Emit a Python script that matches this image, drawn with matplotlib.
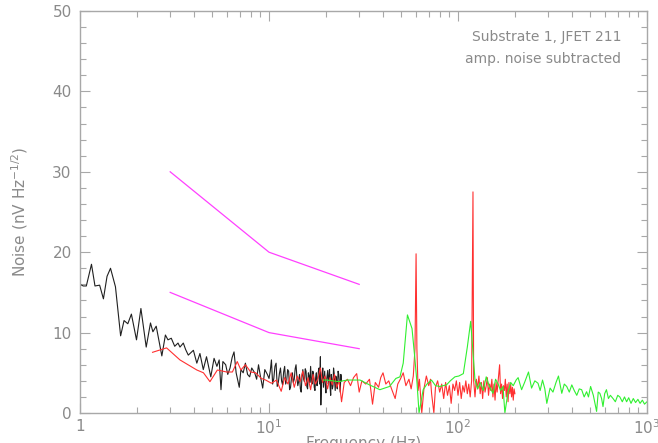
import matplotlib
matplotlib.use("Agg")
import matplotlib.pyplot as plt
from matplotlib.ticker import LogLocator, MultipleLocator, FixedLocator, NullFormatter

AXIS = "#a8a8a8"
TEXT = "#8a8a8a"

# black trace: frequency (Hz), noise (nV/rtHz)
black_f = [1.00, 1.04, 1.08, 1.15, 1.20, 1.27, 1.33, 1.39, 1.45, 1.54, 1.64, 1.71, 1.79,
           1.87, 1.99, 2.10, 2.24, 2.36, 2.43, 2.53, 2.71, 2.83, 2.92, 3.04, 3.17, 3.30,
           3.38, 3.52, 3.62, 3.74, 3.86, 3.98, 4.15, 4.31, 4.49, 4.67, 4.92, 5.12, 5.30,
           5.45, 5.57, 5.70, 5.90, 6.05, 6.22, 6.38, 6.53, 6.70, 6.96, 7.10, 7.30, 7.50,
           7.70, 7.90, 8.10, 8.40, 8.60, 8.80, 9.00, 9.26, 9.50, 9.80,
           10.0, 10.15, 10.3, 10.45, 10.6, 10.75, 10.9, 11.05, 11.2, 11.35,
           11.5, 11.65, 11.8, 11.95, 12.1, 12.25, 12.4, 12.55, 12.7, 12.85,
           13.0, 13.15, 13.3, 13.45, 13.6, 13.75, 13.9, 14.05, 14.2, 14.35,
           14.5, 14.65, 14.8, 14.95, 15.1, 15.25, 15.4, 15.55, 15.7, 15.85,
           16.0, 16.15, 16.3, 16.45, 16.6, 16.75, 16.9, 17.05, 17.2, 17.35,
           17.5, 17.65, 17.8, 17.95, 18.1, 18.25, 18.4, 18.55, 18.7, 18.8,
           18.95, 19.1, 19.25, 19.4, 19.55, 19.7, 19.85, 20.0, 20.15, 20.3,
           20.45, 20.6, 20.75, 20.9, 21.05, 21.2, 21.35, 21.5, 21.65, 21.8,
           21.95, 22.1, 22.25, 22.4, 22.55, 22.7, 22.85, 23.0, 23.2, 23.4,
           23.6, 23.8, 24.0, 24.2]
black_v = [16.0, 15.8, 15.8, 18.5, 15.8, 15.9, 14.2, 17.0, 18.0, 15.7, 9.6, 11.5, 11.1,
           12.3, 9.1, 13.0, 8.2, 11.2, 10.1, 10.8, 7.1, 9.7, 9.1, 9.3, 8.3, 8.7,
           8.2, 8.7, 7.9, 7.2, 7.5, 7.8, 6.2, 7.4, 5.4, 7.0, 4.5, 6.8, 5.8,
           6.6, 2.9, 6.4, 6.0, 4.8, 5.6, 6.9, 7.6, 5.0, 3.2, 5.4, 5.0, 6.2,
           4.8, 4.5, 5.6, 5.0, 4.2, 6.0, 4.6, 3.1, 5.4, 4.8,
           4.3, 5.2, 6.6, 3.6, 4.3, 5.8, 6.2, 3.3, 3.8, 4.9,
           5.6, 4.0, 3.5, 5.1, 5.8, 3.6, 4.0, 5.4, 5.2, 2.9,
           3.2, 4.4, 5.0, 3.8, 4.2, 5.5, 6.0, 4.4, 3.4, 3.9,
           4.8, 3.0, 2.6, 4.6, 5.4, 4.2, 3.9, 5.5, 5.2, 3.3,
           3.0, 5.0, 4.6, 3.8, 5.8, 4.1, 3.6, 5.2, 4.8, 3.2,
           2.8, 4.4, 5.0, 3.4, 4.0, 5.2, 5.6, 3.6, 7.0, 1.0,
           3.8, 4.4, 5.6, 3.2, 4.2, 5.2, 3.4, 2.5, 4.0, 4.6,
           5.3, 3.6, 4.4, 5.4, 3.2, 2.2, 4.8, 4.2, 3.0, 3.4,
           5.6, 5.0, 3.8, 2.8, 4.6, 4.4, 3.2, 3.0, 5.2, 4.8,
           3.6, 2.6, 4.8, 4.0]

red_f = [2.42, 2.87, 3.38, 4.15, 4.50, 4.87, 5.33, 5.97, 6.40, 6.79, 7.10, 7.50, 8.00,
         8.50, 9.10, 9.60, 10.3, 10.95, 11.6, 12.1, 12.6, 13.1, 13.6, 14.1, 14.6, 15.1,
         15.6, 16.1, 16.6, 17.1, 17.6, 18.1, 18.7, 19.2, 19.8, 20.4, 21.0, 21.6, 22.2,
         22.8, 23.5, 24.2, 25.0, 26.0, 27.0, 28.0, 29.1, 30.0, 31.0, 32.5, 34.0, 35.3,
         36.5, 38.0, 39.0, 40.1, 41.5, 43.0, 44.5, 46.5, 48.0, 49.5, 51.3, 53.0, 55.0,
         56.5, 58.0, 59.2, 60.0, 60.6, 61.5, 62.5, 64.3, 66.0, 68.0, 70.0, 71.5, 72.5,
         74.5, 76.0, 78.0, 80.0, 82.0, 84.0, 86.0, 88.0, 90.0, 92.0, 94.0, 96.0, 98.0,
         100.0, 102.0, 104.0, 106.0, 108.0, 110.0, 112.0, 114.0, 116.0, 118.0, 120.0,
         121.0, 123.0, 125.0, 127.0, 129.0, 131.0, 133.0, 135.0, 137.0, 139.0, 141.0,
         143.0, 145.0, 147.0, 149.0, 151.0, 153.0, 155.0, 157.0, 159.0, 161.0, 163.0,
         166.0, 168.0, 170.0, 172.0, 174.0, 176.0, 178.0, 180.0, 182.0, 184.0, 186.0,
         188.0, 190.0, 192.0, 194.0, 196.0, 198.0, 200.0]
red_v = [7.55, 8.1, 6.6, 5.35, 5.0, 3.9, 5.35, 5.1, 5.1, 6.4, 5.35, 6.0, 5.1,
         5.0, 4.3, 4.1, 3.7, 4.1, 2.7, 4.4, 3.6, 5.0, 3.2, 4.6, 3.9, 5.2,
         3.4, 4.4, 2.9, 4.8, 3.6, 4.2, 5.6, 3.8, 4.6, 3.0, 4.4, 3.5, 4.8,
         3.2, 4.0, 1.4, 3.8, 4.2, 3.4, 4.4, 4.9, 2.6, 4.0, 3.6, 4.2, 1.1,
         3.8, 3.2, 4.4, 5.0, 3.6, 4.0, 3.0, 1.8, 3.6, 4.2, 5.0, 3.4, 4.2,
         3.0, 4.6, 8.0, 19.8, 8.0, 2.8, 4.2, 0.0, 3.0, 4.6, 3.4, 4.2, 2.4,
         0.0, 3.2, 4.0, 2.6, 3.6, 1.8, 3.8, 2.2, 3.4, 1.2, 3.6, 2.8, 4.0,
         2.2, 3.8, 1.8, 3.4, 2.6, 4.0, 2.4, 3.6, 2.0, 4.0, 27.5,
         4.0, 2.0, 4.2, 3.0, 4.6, 2.4, 3.8, 1.8, 4.0, 2.6, 3.4,
         4.4, 2.2, 3.6, 2.8, 4.2, 2.0, 3.6, 1.6, 3.8, 2.6, 4.0,
         6.0, 2.4, 3.6, 1.8, 3.4, 2.8, 4.2, 2.0, 3.6, 1.4, 3.8,
         2.4, 3.6, 2.0, 3.2, 1.6, 3.0, 2.4]

green_f = [19.4, 20.2, 23.3, 26.0, 30.3, 34.0, 38.6, 43.4, 46.9, 49.3, 51.3, 54.0, 57.1,
           59.0, 60.7, 62.2, 65.4, 68.5, 72.4, 76.0, 80.0, 86.9, 91.0, 96.3, 101.0, 106.7,
           112.0, 116.7, 119.6, 123.0, 127.0, 131.0, 136.0, 141.0, 146.0, 153.0, 158.0,
           163.0, 168.0, 173.0, 177.0, 184.0, 190.0, 196.0, 203.0, 208.0, 217.0, 225.0,
           236.0, 245.0, 255.0, 265.0, 272.0, 280.0, 288.0, 295.0, 307.0, 318.0, 330.0,
           340.0, 354.0, 365.0, 376.0, 388.0, 400.0, 412.0, 425.0, 438.0, 451.0, 465.0,
           479.0, 490.0, 503.0, 520.0, 541.0, 552.0, 563.0, 575.0, 585.0, 597.0, 610.0,
           625.0, 640.0, 661.0, 680.0, 700.0, 718.0, 740.0, 760.0, 780.0, 800.0, 823.0,
           846.0, 870.0, 895.0, 919.0, 945.0, 970.0, 1000.0]
green_v = [4.1, 4.1, 3.9, 4.1, 4.1, 3.5, 2.9, 3.3, 4.3, 4.5, 6.2, 12.2, 10.5,
           7.0, 3.7, 0.0, 2.9, 3.6, 4.1, 3.4, 3.3, 3.5, 4.0, 4.5, 4.6, 4.9,
           8.2, 11.4, 8.0, 4.1, 3.0, 3.8, 2.8, 4.5, 3.4, 2.45, 4.2,
           3.6, 2.8, 3.3, 0.0, 2.65, 3.8, 3.4, 4.1, 4.4, 2.9, 3.8,
           5.1, 3.1, 4.0, 3.7, 2.8, 4.1, 3.0, 1.2, 3.1, 2.6, 3.8,
           4.6, 2.45, 3.6, 3.3, 2.6, 3.5, 2.8, 2.2, 3.0, 2.9, 2.0,
           2.65, 2.0, 3.3, 2.2, 0.2, 2.6, 2.45, 1.8, 0.8, 2.4, 2.9,
           1.8, 2.2, 1.8, 1.4, 2.2, 2.0, 1.4, 2.0, 1.4, 1.9, 1.2,
           1.8, 1.3, 1.7, 1.2, 1.6, 1.1, 1.4]

# magenta reference lines
ref_f = [3, 10, 30]
ref_upper = [30, 20, 16]
ref_lower = [15, 10, 8]

fig = plt.figure(figsize=(6.58, 4.43), dpi=100, facecolor="white")
ax = fig.add_axes([0.1216, 0.0677, 0.8617, 0.9075])

ax.plot(black_f, black_v, color="#202020", linewidth=0.8)
ax.plot(red_f, red_v, color="#ff3030", linewidth=0.8)
ax.plot(green_f, green_v, color="#30f030", linewidth=0.8)
ax.plot(ref_f, ref_upper, color="#ff40ff", linewidth=0.9)
ax.plot(ref_f, ref_lower, color="#ff40ff", linewidth=0.9)

ax.set_xscale("log")
ax.set_xlim(1, 1000)
ax.set_ylim(0, 50)

for s in ax.spines.values():
    s.set_color(AXIS)
    s.set_linewidth(1.0)

ax.xaxis.set_major_locator(FixedLocator([1, 10, 100, 1000]))
ax.xaxis.set_minor_locator(LogLocator(base=10, subs=range(2, 10)))
ax.xaxis.set_minor_formatter(NullFormatter())
ax.set_xticklabels(["1", "10$^1$", "10$^2$", "10$^3$"])
ax.yaxis.set_major_locator(MultipleLocator(10))
ax.yaxis.set_minor_locator(MultipleLocator(2))

ax.tick_params(which="both", direction="in", top=True, right=True, color=AXIS,
               labelcolor=TEXT, labelsize=11)
ax.tick_params(which="major", length=7, width=0.8, pad=6)
ax.tick_params(axis="x", which="major", pad=4)
ax.tick_params(which="minor", length=4, width=0.8)

ax.set_xlabel("Frequency (Hz)", color=TEXT, fontsize=11, labelpad=-1)
ax.set_ylabel("Noise (nV Hz$^{-1/2}$)", color=TEXT, fontsize=11, labelpad=16)

ax.text(0.955, 0.935, "Substrate 1, JFET 211", transform=ax.transAxes,
        ha="right", va="center", color=TEXT, fontsize=10)
ax.text(0.955, 0.88, "amp. noise subtracted", transform=ax.transAxes,
        ha="right", va="center", color=TEXT, fontsize=10)

fig.savefig("out.png", dpi=100)
